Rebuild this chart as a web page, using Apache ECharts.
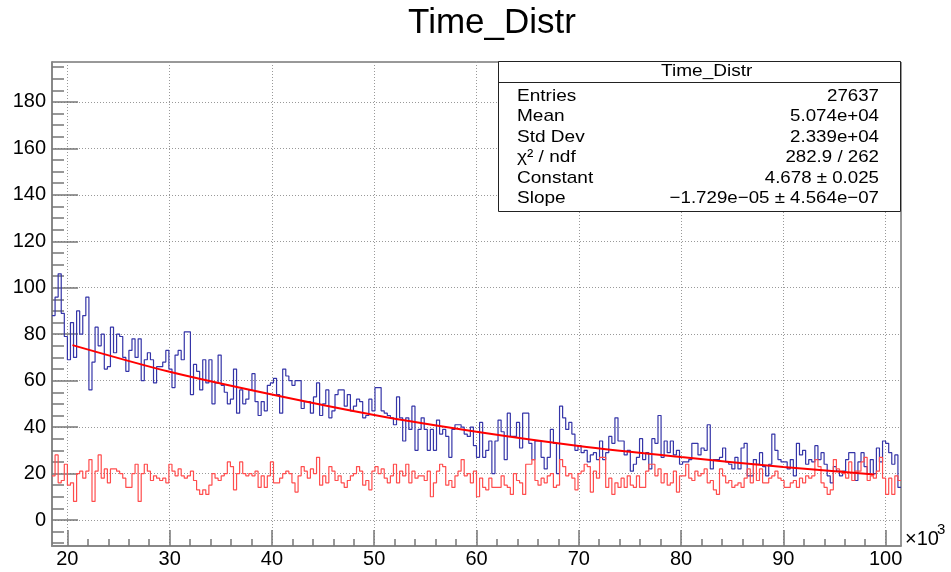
<!DOCTYPE html>
<html>
<head>
<meta charset="utf-8">
<title>Time_Distr</title>
<script src="https://cdn.jsdelivr.net/npm/echarts@6.0.0/dist/echarts.min.js"></script>
<style>
html, body { margin: 0; padding: 0; background: #fff; }
#chart { width: 951px; height: 572px; }
</style>
</head>
<body>
<div id="chart"></div>
<script>
// axis ranges
const xMin = 18500;
const xMax = 101500;
const yMin = -11.2;
const yMax = 197.2;

// bin contents, left to right (276 bins)
const blueCounts = [
  88, 96, 106, 89, 79, 69, 85, 70, 90, 80, 88, 96, 56, 68, 83, 75, 80, 65, 66, 83, 72, 80,
  79, 70, 64, 73, 78, 70, 78, 60, 69, 72, 69, 59, 66, 66, 68, 73, 65, 57, 71, 73, 69, 81, 81, 54, 67,
  64, 56, 69, 59, 69, 50, 59, 71, 58, 55, 50, 52, 65, 46, 56, 50, 52,
  56, 63, 51, 45, 51, 47, 58, 59, 61, 54, 46, 65, 62, 60, 58, 60, 60, 48, 51, 51,
  46, 53, 59, 45, 50, 56, 44, 47, 54, 56, 56, 49, 54, 47, 49, 52, 51, 44, 45, 52,
  47, 57, 57, 47, 46, 45, 44, 41, 53, 44, 34, 44, 39, 49, 30, 39, 44, 39, 30, 39,
  30, 43, 37, 39, 36, 27, 39, 41, 41, 40, 37, 36,
  40, 32, 27, 42, 27, 30, 34, 20, 34, 43, 38, 26, 46, 36, 36, 42, 31, 46, 46, 33, 26,
  34, 34, 27, 22, 27, 39, 33, 20, 49, 44, 39, 42, 37, 30, 32, 29, 30, 25, 28, 29, 26, 34,
  26, 29, 36, 33, 44, 34, 34, 28, 30, 21, 24, 27, 35, 26, 29, 22, 35, 33, 45, 27, 34, 29,
  34, 28, 30, 24, 25, 25, 26, 33, 33, 28, 31, 30, 41, 22, 26, 26, 27, 31, 25, 24, 22, 27,
  22, 31, 33, 19, 19, 26, 24, 29, 23, 19, 24, 37, 30, 26, 25, 25, 22, 26, 19, 33, 28, 30,
  24, 26, 25, 32, 26, 29, 24, 19, 16, 23, 21, 19, 21, 26, 29, 29, 17, 25, 29, 23, 20, 26,
  20, 31, 25, 34, 33, 29, 24, 28, 14
];

const redCounts = [
  19, 28, 16, 17, 24, 15, 16, 8, 20, 21, 18, 21, 26, 8, 21, 28, 18, 22, 16, 22, 22, 21,
  20, 18, 14, 14, 20, 24, 8, 20, 24, 21, 17, 19, 18, 17, 18, 16, 24, 21, 19, 22, 19,
  18, 19, 21, 17, 13, 11, 13, 11, 15, 20, 18, 17, 19, 20, 25, 23, 13, 20, 25, 20, 19,
  20, 19, 21, 14, 19, 14, 19, 25, 16, 16, 18, 20, 21, 20, 16, 12, 19, 23, 21, 18, 22, 20,
  27, 15, 19, 16, 23, 21, 17, 19, 16, 14, 17, 19, 20, 23, 21, 15, 17, 13, 21, 23, 20, 22,
  18, 16, 19, 24, 16, 21, 19, 24, 16, 21, 18, 19, 19, 17, 21, 10, 16, 21, 24, 23, 15, 17,
  14, 19, 21, 26, 19, 20,
  16, 21, 10, 18, 14, 13, 18, 14, 14, 14, 19, 15, 14, 11, 20, 17,
  16, 11, 24, 24, 26, 17, 15, 18, 16, 19, 20, 14, 15, 26, 23, 19,
  20, 18, 13, 20, 21, 24, 23, 12, 21, 18, 27, 27, 14, 18, 11, 16,
  14, 18, 14, 19, 15, 14, 19, 14, 14, 21, 24, 24, 19, 22, 16, 20, 15,
  16, 21, 12, 19, 19, 24, 18, 17, 21, 19, 20, 22, 16, 17, 13, 11, 22, 19, 16, 17, 14, 15,
  16, 14, 18, 22, 16, 24, 17, 22, 16, 16, 18, 19, 21, 18, 17, 14, 14, 16, 17, 14, 18, 16,
  19, 18, 19, 26, 23, 16, 14, 11, 13, 26, 22, 21, 20, 18, 25, 17, 21, 21, 25, 27, 17, 19,
  18, 21, 27, 18, 11, 18, 11, 19, 17
];

// fitted curve, points
const fitX = [20500, 30000, 40000, 50000, 60000, 70000, 80000, 90000, 98900];
const fitY = [75.3, 63.8, 54.0, 45.2, 38.0, 31.9, 27.1, 22.8, 19.6];

// ticks
const xMajorTicks = [20000, 30000, 40000, 50000, 60000, 70000, 80000, 90000, 100000];
const xMinorTicks = [
  22000, 24000, 26000, 28000, 32000, 34000, 36000, 38000, 42000, 44000, 46000, 48000,
  52000, 54000, 56000, 58000, 62000, 64000, 66000, 68000, 72000, 74000, 76000, 78000,
  82000, 84000, 86000, 88000, 92000, 94000, 96000, 98000
];
const yMajorTicks = [0, 20, 40, 60, 80, 100, 120, 140, 160, 180];
const yMinorTicks = [
  -10, -5, 5, 10, 15, 25, 30, 35, 45, 50, 55, 65, 70, 75, 85, 90, 95, 105, 110, 115,
  125, 130, 135, 145, 150, 155, 165, 170, 175, 185, 190, 195
];

// stats box
const statLabels = ['Entries', 'Mean', 'Std Dev', 'χ² / ndf', 'Constant', 'Slope'];
const statValues = ['27637', '5.074e+04', '2.339e+04', '282.9 / 262', '4.678 ± 0.025', '−1.729e−05 ± 4.564e−07'];

const FONT = 'Liberation Sans, Arial, Helvetica, sans-serif';

const binW = (xMax - xMin) / blueCounts.length;
function stepData(counts) {
  const d = counts.map((c, i) => [xMin + i * binW, c]);
  d.push([xMax, counts[counts.length - 1]]);
  return d;
}

const gridLine = { show: true, lineStyle: { color: '#999', type: [1, 2], width: 1 } };

const statGraphics = [];
statGraphics.push({
  type: 'rect', shape: { x: 498.5, y: 61.5, width: 402, height: 150 },
  style: { fill: '#fff', stroke: '#222', lineWidth: 1 }, z: 100
});
statGraphics.push({
  type: 'line', shape: { x1: 498.5, y1: 82.5, x2: 900.5, y2: 82.5 },
  style: { stroke: '#222', lineWidth: 1 }, z: 101
});
statGraphics.push({
  type: 'text', x: 706.7, y: 71, scaleX: 1.12, z: 101,
  style: { text: 'Time_Distr', font: '17px ' + FONT, fill: '#000', align: 'center', verticalAlign: 'middle' }
});
statLabels.forEach((lab, k) => {
  const yMid = 96 + k * 20.5;
  statGraphics.push({
    type: 'text', x: 517, y: yMid, scaleX: 1.12, z: 101,
    style: { text: lab, font: '17px ' + FONT, fill: '#000', align: 'left', verticalAlign: 'middle' }
  });
  statGraphics.push({
    type: 'text', x: 879, y: yMid, scaleX: 1.1, z: 101,
    style: { text: statValues[k], font: '17px ' + FONT, fill: '#000', align: 'right', verticalAlign: 'middle' }
  });
});

const option = {
  animation: false,
  backgroundColor: '#fff',
  title: {
    text: 'Time_Distr',
    left: 487, top: 1, textAlign: 'center',
    textStyle: { fontSize: 35, fontWeight: 'normal', color: '#000', fontFamily: FONT }
  },
  grid: {
    left: 52, right: 50, top: 62, bottom: 26,
    show: true, borderColor: '#333', borderWidth: 1, backgroundColor: 'transparent'
  },
  xAxis: [
    {
      type: 'value', min: xMin, max: xMax, position: 'bottom',
      axisLine: { show: true, onZero: false, lineStyle: { color: '#888', width: 2 } },
      axisTick: { show: true, inside: true, length: 16, customValues: xMajorTicks, lineStyle: { color: '#777', width: 1.5 } },
      axisLabel: {
        show: true, customValues: xMajorTicks, margin: 3,
        formatter: v => String(Math.round(v / 1000)),
        fontSize: 20, color: '#000', fontFamily: FONT
      },
      splitLine: gridLine
    },
    {
      type: 'value', min: xMin, max: xMax, position: 'bottom',
      axisLine: { show: false, onZero: false },
      axisTick: { show: true, inside: true, length: 7, customValues: xMinorTicks, lineStyle: { color: '#777', width: 1.5 } },
      axisLabel: { show: false },
      splitLine: { show: false }
    }
  ],
  yAxis: [
    {
      type: 'value', min: yMin, max: yMax, position: 'left',
      axisLine: { show: true, onZero: false, lineStyle: { color: '#888', width: 2 } },
      axisTick: { show: true, inside: true, length: 26, customValues: yMajorTicks, lineStyle: { color: '#777', width: 1.5 } },
      axisLabel: {
        show: true, customValues: yMajorTicks, margin: 6,
        fontSize: 20, color: '#000', fontFamily: FONT
      },
      splitLine: gridLine
    },
    {
      type: 'value', min: yMin, max: yMax, position: 'left',
      axisLine: { show: false, onZero: false },
      axisTick: { show: true, inside: true, length: 12, customValues: yMinorTicks, lineStyle: { color: '#777', width: 1.5 } },
      axisLabel: { show: false },
      splitLine: { show: false }
    }
  ],
  series: [
    {
      name: 'Time_Distr', type: 'line', step: 'end',
      xAxisIndex: 0, yAxisIndex: 0,
      data: stepData(blueCounts), symbol: 'none',
      lineStyle: { color: '#3535a8', width: 1.2 }, z: 2
    },
    {
      name: 'bkg', type: 'line', step: 'end',
      xAxisIndex: 0, yAxisIndex: 0,
      data: stepData(redCounts), symbol: 'none',
      lineStyle: { color: '#ff4d4d', width: 1.2 }, z: 3
    },
    {
      name: 'expo', type: 'line', smooth: 0.3,
      xAxisIndex: 0, yAxisIndex: 0,
      data: fitX.map((x, i) => [x, fitY[i]]), symbol: 'none',
      lineStyle: { color: '#ff0000', width: 2 }, z: 4
    }
  ],
  graphic: statGraphics.concat([
    {
      type: 'text', x: 905, y: 539,
      style: { text: '×10', font: '20px ' + FONT, fill: '#000', align: 'left', verticalAlign: 'middle' }
    },
    {
      type: 'text', x: 937, y: 530,
      style: { text: '3', font: '15px ' + FONT, fill: '#000', align: 'left', verticalAlign: 'middle' }
    }
  ])
};

const chart = echarts.init(document.getElementById('chart'));
chart.setOption(option);
</script>
</body>
</html>
